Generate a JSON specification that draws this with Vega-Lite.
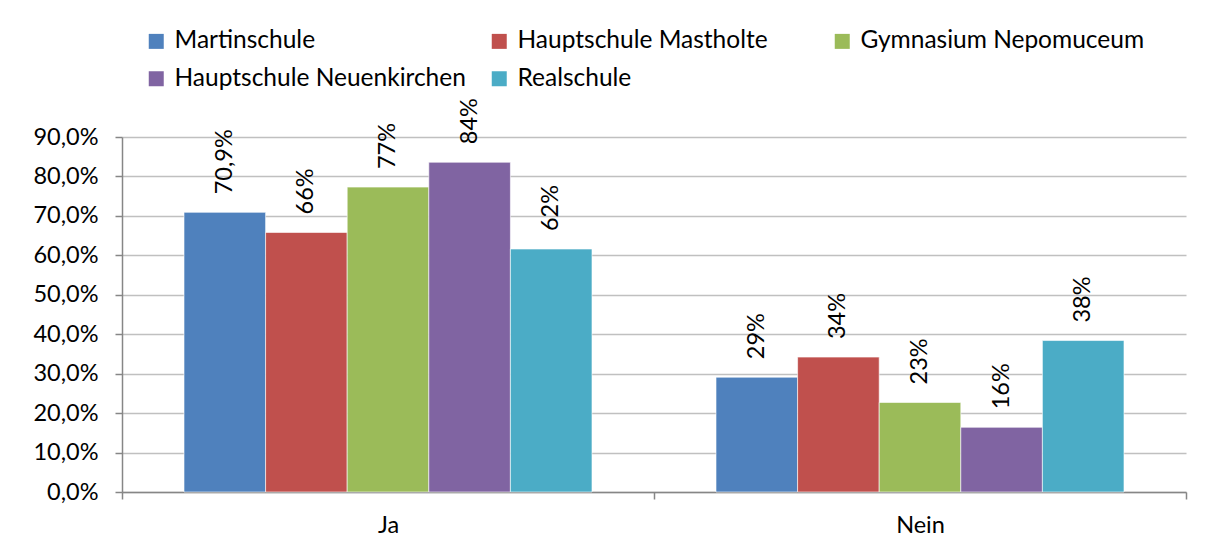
{
  "$schema": "https://vega.github.io/schema/vega-lite/v6.json",
  "width": 1064,
  "height": 355,
  "autosize": "none",
  "padding": {"left": 122, "top": 137, "right": 29, "bottom": 46},
  "background": "#ffffff",
  "config": {
    "locale": {"number": {"decimal": ",", "thousands": ".", "grouping": [3], "currency": ["", " €"]}},
    "view": {"stroke": null},
    "font": "Lato"
  },
  "data": {
    "values": [
      {"antwort": "Ja", "schule": "Martinschule", "wert": 0.709, "label": "70,9%"},
      {"antwort": "Ja", "schule": "Hauptschule Mastholte", "wert": 0.658, "label": "66%"},
      {"antwort": "Ja", "schule": "Gymnasium Nepomuceum", "wert": 0.773, "label": "77%"},
      {"antwort": "Ja", "schule": "Hauptschule Neuenkirchen", "wert": 0.836, "label": "84%"},
      {"antwort": "Ja", "schule": "Realschule", "wert": 0.616, "label": "62%"},
      {"antwort": "Nein", "schule": "Martinschule", "wert": 0.291, "label": "29%"},
      {"antwort": "Nein", "schule": "Hauptschule Mastholte", "wert": 0.342, "label": "34%"},
      {"antwort": "Nein", "schule": "Gymnasium Nepomuceum", "wert": 0.227, "label": "23%"},
      {"antwort": "Nein", "schule": "Hauptschule Neuenkirchen", "wert": 0.164, "label": "16%"},
      {"antwort": "Nein", "schule": "Realschule", "wert": 0.384, "label": "38%"}
    ]
  },
  "encoding": {
    "x": {
      "field": "antwort", "type": "nominal", "sort": ["Ja", "Nein"],
      "scale": {"paddingInner": 0, "paddingOuter": 0},
      "axis": {
        "title": null, "labelAngle": 0, "tickBand": "extent",
        "domainColor": "#868686", "domainWidth": 1.5, "tickColor": "#868686", "tickWidth": 1.5, "tickSize": 7,
        "labelFontSize": 23.5, "labelColor": "#000000", "labelPadding": 14, "grid": false
      }
    },
    "xOffset": {
      "field": "schule", "type": "nominal",
      "sort": ["Martinschule", "Hauptschule Mastholte", "Gymnasium Nepomuceum", "Hauptschule Neuenkirchen", "Realschule"],
      "scale": {"paddingInner": 0, "paddingOuter": 0.76}
    },
    "y": {
      "field": "wert", "type": "quantitative",
      "scale": {"domain": [0, 0.9], "nice": false},
      "axis": {
        "title": null, "format": ".1%", "values": [0, 0.1, 0.2, 0.3, 0.4, 0.5, 0.6, 0.7, 0.8, 0.9],
        "domainColor": "#868686", "domainWidth": 1.5, "tickColor": "#868686", "tickWidth": 1.5, "tickSize": 7,
        "labelFontSize": 23.5, "labelColor": "#000000", "labelPadding": 17,
        "gridColor": "#c0c0c0", "gridWidth": 1.3
      }
    }
  },
  "layer": [
    {
      "mark": {"type": "bar", "stroke": "#ffffff", "strokeWidth": 0.6},
      "encoding": {
        "color": {
          "field": "schule", "type": "nominal",
          "sort": ["Martinschule", "Hauptschule Mastholte", "Gymnasium Nepomuceum", "Hauptschule Neuenkirchen", "Realschule"],
          "scale": {
            "domain": ["Martinschule", "Hauptschule Mastholte", "Gymnasium Nepomuceum", "Hauptschule Neuenkirchen", "Realschule"],
            "range": ["#4f81bd", "#c0504d", "#9bbb59", "#8064a2", "#4bacc6"]
          },
          "legend": {
            "title": null, "orient": "none", "legendX": 22, "legendY": -108,
            "direction": "horizontal", "columns": 3, "gridAlign": "all",
            "symbolType": "square", "symbolSize": 225, "symbolStrokeWidth": 0, "symbolOpacity": 1,
            "labelFontSize": 24.5, "labelColor": "#000000", "labelOffset": 6, "labelLimit": 400,
            "rowPadding": 12.5, "columnPadding": 21
          }
        }
      }
    },
    {
      "mark": {"type": "text", "angle": 270, "align": "left", "baseline": "middle", "dx": 18, "fontSize": 23.5, "color": "#000000"},
      "encoding": {"text": {"field": "label"}}
    }
  ]
}
